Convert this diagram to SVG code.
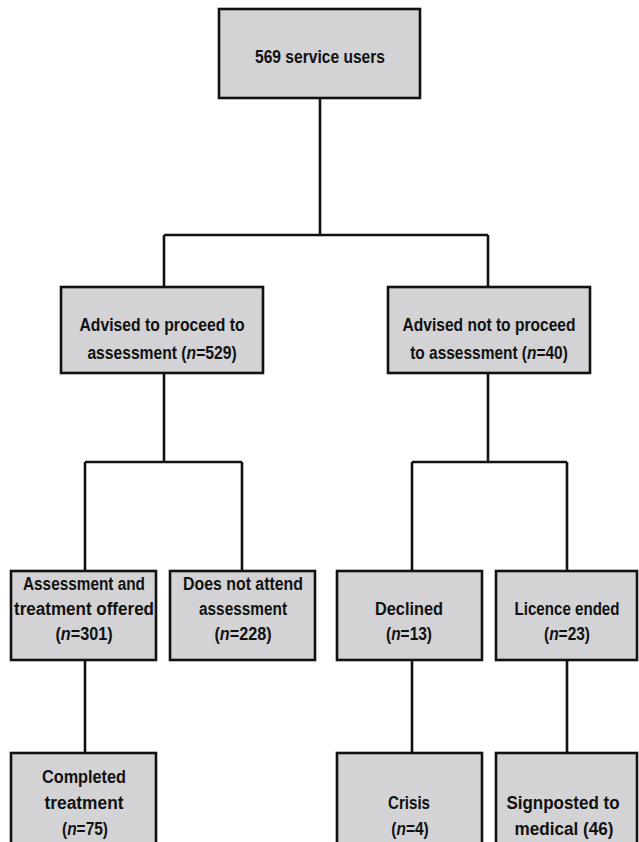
<svg xmlns="http://www.w3.org/2000/svg" width="639" height="842" viewBox="0 0 639 842">
<style>
.box{fill:#d3d3d5;stroke:#111;stroke-width:2.6}
.t{font-family:"Liberation Sans",Arial,sans-serif;font-weight:bold;font-size:18px;fill:#111;text-anchor:middle}
.c{fill:none;stroke:#111;stroke-width:2.6}
</style>
<rect width="639" height="842" fill="#fff"/>
<g id="connectors">
<path class="c" d="M320 98V235M164 235H488M164 235V287M488 235V287"/>
<path class="c" d="M164 373V462M85 462H242M85 462V571M242 462V571"/>
<path class="c" d="M488 373V462M412 462H567M412 462V571M567 462V571"/>
<path class="c" d="M85 660V753M412 660V753M567 660V753"/>
</g>
<g id="n569">
<rect class="box" x="219" y="9" width="201" height="89"/>
<text class="t" x="320" y="63" textLength="130" lengthAdjust="spacingAndGlyphs">569 service users</text>
</g>
<g id="advised">
<rect class="box" x="61" y="287" width="202" height="86"/>
<text class="t" x="162" y="331" textLength="165" lengthAdjust="spacingAndGlyphs">Advised to proceed to</text>
<text class="t" transform="translate(162 359) scale(0.87 1)">assessment (<tspan font-style="italic">n</tspan>=529)</text>
</g>
<g id="notadvised">
<rect class="box" x="388" y="287" width="202" height="86"/>
<text class="t" x="489" y="331" textLength="173" lengthAdjust="spacingAndGlyphs">Advised not to proceed</text>
<text class="t" transform="translate(489 359) scale(0.86 1)">to assessment (<tspan font-style="italic">n</tspan>=40)</text>
</g>
<g id="offered">
<rect class="box" x="11" y="571" width="145" height="89"/>
<text class="t" x="84" y="590" textLength="122" lengthAdjust="spacingAndGlyphs">Assessment and</text>
<text class="t" x="84" y="615" textLength="140" lengthAdjust="spacingAndGlyphs">treatment offered</text>
<text class="t" transform="translate(84 640) scale(0.9 1)">(<tspan font-style="italic">n</tspan>=301)</text>
</g>
<g id="notattend">
<rect class="box" x="170" y="571" width="145" height="89"/>
<text class="t" x="243" y="590" textLength="120" lengthAdjust="spacingAndGlyphs">Does not attend</text>
<text class="t" x="243" y="615" textLength="88" lengthAdjust="spacingAndGlyphs">assessment</text>
<text class="t" transform="translate(243 640) scale(0.9 1)">(<tspan font-style="italic">n</tspan>=228)</text>
</g>
<g id="declined">
<rect class="box" x="337" y="571" width="145" height="89"/>
<text class="t" x="409" y="615" textLength="68" lengthAdjust="spacingAndGlyphs">Declined</text>
<text class="t" transform="translate(409 640) scale(0.86 1)">(<tspan font-style="italic">n</tspan>=13)</text>
</g>
<g id="licence">
<rect class="box" x="496" y="571" width="141" height="89"/>
<text class="t" x="567" y="615" textLength="105" lengthAdjust="spacingAndGlyphs">Licence ended</text>
<text class="t" transform="translate(567 640) scale(0.86 1)">(<tspan font-style="italic">n</tspan>=23)</text>
</g>
<g id="completed">
<rect class="box" x="11" y="753" width="145" height="100"/>
<text class="t" x="84" y="783" textLength="84" lengthAdjust="spacingAndGlyphs">Completed</text>
<text class="t" x="84" y="809" textLength="79" lengthAdjust="spacingAndGlyphs">treatment</text>
<text class="t" transform="translate(85 835) scale(0.86 1)">(<tspan font-style="italic">n</tspan>=75)</text>
</g>
<g id="crisis">
<rect class="box" x="337" y="753" width="145" height="100"/>
<text class="t" x="409" y="809" textLength="42" lengthAdjust="spacingAndGlyphs">Crisis</text>
<text class="t" transform="translate(410 835) scale(0.86 1)">(<tspan font-style="italic">n</tspan>=4)</text>
</g>
<g id="signposted">
<rect class="box" x="496" y="753" width="141" height="100"/>
<text class="t" x="563" y="809" textLength="113" lengthAdjust="spacingAndGlyphs">Signposted to</text>
<text class="t" x="564" y="835" textLength="99" lengthAdjust="spacingAndGlyphs">medical (46)</text>
</g>
</svg>
